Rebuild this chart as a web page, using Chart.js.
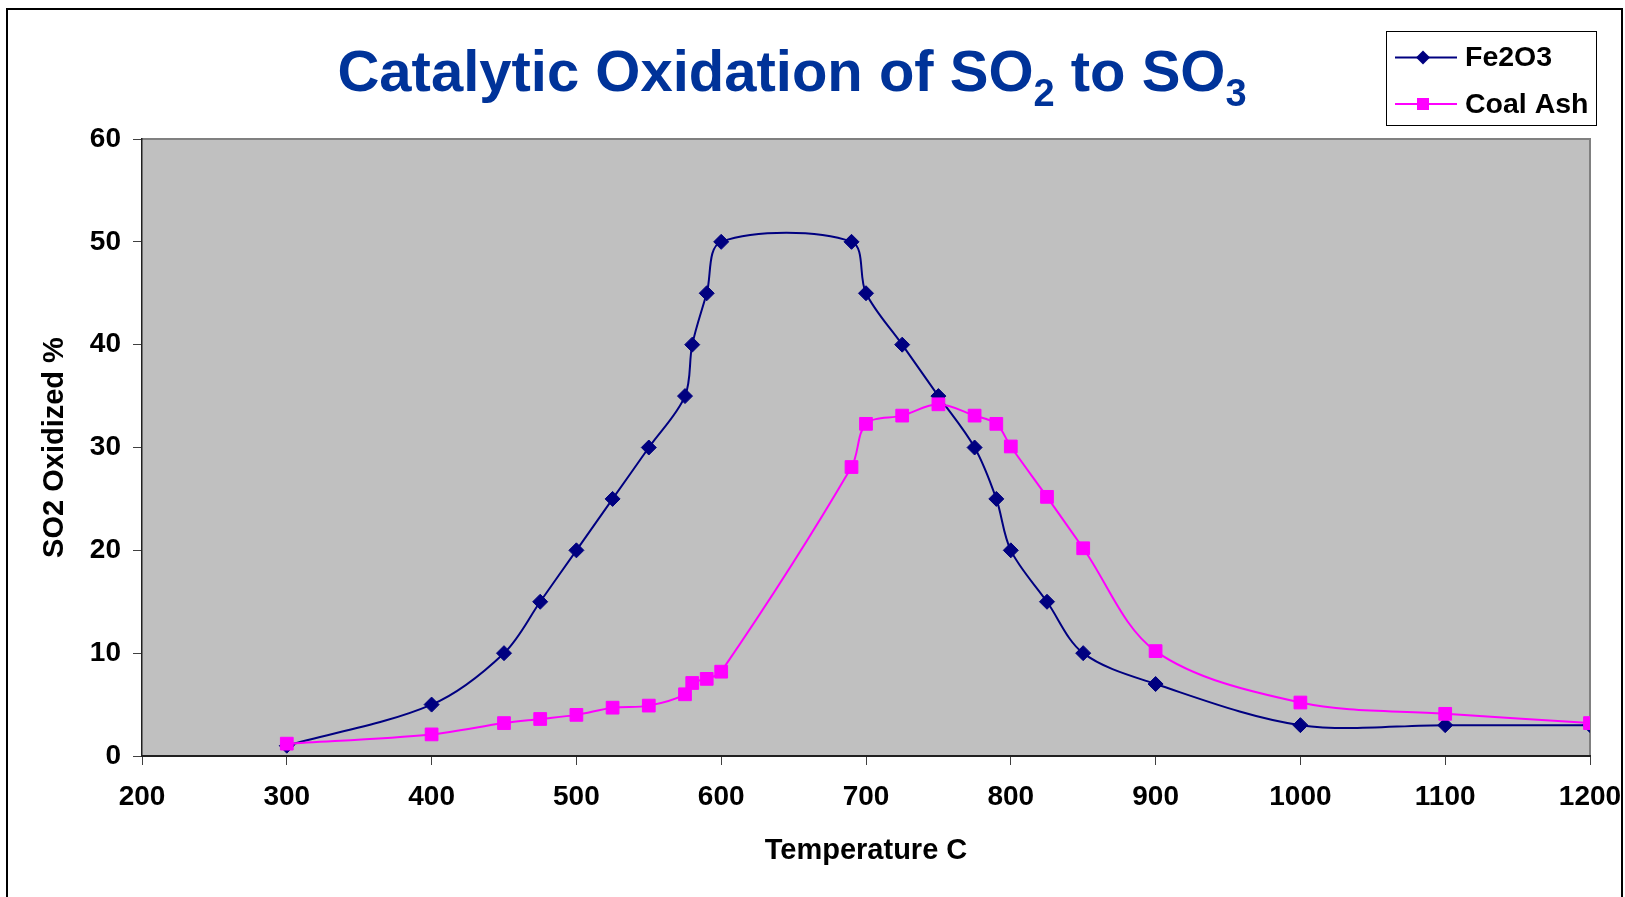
<!DOCTYPE html>
<html>
<head>
<meta charset="utf-8">
<title>Catalytic Oxidation of SO2 to SO3</title>
<script src="https://cdn.jsdelivr.net/npm/chart.js@4.4.0/dist/chart.umd.min.js"></script>
<style>
    html, body { margin: 0; padding: 0; background: #ffffff; }
    #wrap { width: 1625px; height: 897px; }
</style>
</head>
<body>
<div id="wrap"><canvas id="myChart" width="1625" height="897"></canvas></div>
<script>
// Temperature (C), shared by both series
const temperatures = [300, 400, 450, 475, 500, 525, 550, 575, 580, 590, 600, 690,
    700, 725, 750, 775, 790, 800, 825, 850, 900, 1000, 1100, 1200];

// SO2 oxidized (%)
const fe2o3Values = [1, 5, 10, 15, 20, 25, 30, 35, 40, 45, 50, 50,
    45, 40, 35, 30, 25, 20, 15, 10, 7, 3, 3, 3];
const coalAshValues = [1.2, 2.1, 3.2, 3.6, 4, 4.7, 4.9, 6, 7.1, 7.5, 8.2, 28.1,
    32.3, 33.1, 34.2, 33.1, 32.3, 30.1, 25.2, 20.2, 10.2, 5.2, 4.1, 3.2];

const seriesNames = ['Fe2O3', 'Coal Ash'];
const xMin = 200, xMax = 1200, xStep = 100;
const yMin = 0, yMax = 60, yStep = 10;

const FONT = "'Liberation Sans', Arial, sans-serif";

function toPoints(xs, ys) {
    return xs.map(function (x, i) { return {x: x, y: ys[i]}; });
}

// fond blanc, cadre gris de la zone de tracé, bordure du graphique
const backgroundPlugin = {
    id: 'background',
    beforeDraw: function (chart) {
        const c = chart.ctx;
        const a = chart.chartArea;
        c.save();
        c.fillStyle = '#ffffff';
        c.fillRect(0, 0, chart.width, chart.height);
        c.fillStyle = '#c0c0c0';
        c.fillRect(a.left, a.top, a.right - a.left, a.bottom - a.top);
        c.strokeStyle = '#808080';
        c.lineWidth = 2;
        c.beginPath();
        c.moveTo(a.left, a.top);
        c.lineTo(a.right, a.top);
        c.lineTo(a.right, a.bottom);
        c.stroke();
        c.strokeStyle = '#000000';
        c.lineWidth = 2;
        c.beginPath();
        c.moveTo(7, chart.height);
        c.lineTo(7, 9);
        c.lineTo(1622, 9);
        c.lineTo(1622, chart.height);
        c.stroke();
        c.restore();
    }
};

// titre avec indices + légende encadrée
const titleLegendPlugin = {
    id: 'titleLegend',
    afterDraw: function (chart) {
        const c = chart.ctx;
        c.save();
        // title
        const parts = [
            {t: 'Catalytic Oxidation of SO', sub: false},
            {t: '2', sub: true},
            {t: ' to SO', sub: false},
            {t: '3', sub: true}
        ];
        const big = 'bold 58px ' + FONT;
        const small = 'bold 38px ' + FONT;
        let total = 0;
        parts.forEach(function (p) {
            c.font = p.sub ? small : big;
            p.w = c.measureText(p.t).width;
            total += p.w;
        });
        let x = 792 - total / 2;
        const baseY = 91;
        c.fillStyle = '#003399';
        c.textBaseline = 'alphabetic';
        c.textAlign = 'left';
        parts.forEach(function (p) {
            c.font = p.sub ? small : big;
            c.fillText(p.t, x, p.sub ? baseY + 15 : baseY);
            x += p.w;
        });

        // legend
        c.fillStyle = '#ffffff';
        c.fillRect(1386, 31, 210, 94);
        c.strokeStyle = '#000000';
        c.lineWidth = 1;
        c.strokeRect(1386.5, 31.5, 210, 94);
        const rows = [57.5, 104];
        chart.data.datasets.forEach(function (ds, i) {
            const y = rows[i];
            c.strokeStyle = ds.borderColor;
            c.lineWidth = 2;
            c.beginPath();
            c.moveTo(1395, y);
            c.lineTo(1457, y);
            c.stroke();
            c.fillStyle = ds.backgroundColor;
            const mx = 1423;
            if (ds.pointStyle === 'rectRot') {
                c.beginPath();
                c.moveTo(mx, y - 7);
                c.lineTo(mx + 7, y);
                c.lineTo(mx, y + 7);
                c.lineTo(mx - 7, y);
                c.closePath();
                c.fill();
            } else {
                c.fillRect(mx - 6, y - 6, 12, 12);
            }
            c.fillStyle = '#000000';
            c.font = 'bold 28.5px ' + FONT;
            c.textBaseline = 'middle';
            c.fillText(ds.label, 1465, y + 1);
        });
        c.restore();
    }
};

const ctx = document.getElementById('myChart').getContext('2d');
const myChart = new Chart(ctx, {
    type: 'line',
    data: {
        datasets: [{
            label: seriesNames[0],
            data: toPoints(temperatures, fe2o3Values),
            borderColor: '#000080',
            backgroundColor: '#000080',
            borderWidth: 2,
            pointStyle: 'rectRot',
            pointRadius: 7.5,
            pointHoverRadius: 7.5,
            pointBorderWidth: 1,
            tension: 0.33,
            fill: false,
            order: 1
        }, {
            label: seriesNames[1],
            data: toPoints(temperatures, coalAshValues),
            borderColor: '#ff00ff',
            backgroundColor: '#ff00ff',
            borderWidth: 2,
            pointStyle: 'rect',
            pointRadius: 9,
            pointHoverRadius: 9,
            pointBorderWidth: 1,
            tension: 0.33,
            fill: false,
            order: 0
        }]
    },
    options: {
        responsive: false,
        animation: false,
        layout: {
            padding: {top: 139, right: 35, bottom: 0, left: 0}
        },
        plugins: {
            legend: {display: false},
            title: {display: false},
            tooltip: {enabled: false}
        },
        scales: {
            x: {
                type: 'linear',
                min: xMin,
                max: xMax,
                afterFit: function (scale) {
                    scale.height = 141;
                    scale.paddingLeft = 0;  // la marge est gérée par layout.padding
                    scale.paddingRight = 0;
                },
                ticks: {
                    stepSize: xStep,
                    color: '#000000',
                    padding: 15,
                    font: {family: FONT, size: 28, weight: 'bold'},
                    callback: function (value) { return String(value); }
                },
                grid: {
                    drawOnChartArea: false,
                    drawTicks: true,
                    tickLength: 9,
                    tickColor: '#404040',
                    tickWidth: 1
                },
                border: {color: '#202020', width: 2},
                title: {
                    display: true,
                    text: 'Temperature C',
                    color: '#000000',
                    font: {family: FONT, size: 29, weight: 'bold'},
                    padding: {top: 0, bottom: 29}
                }
            },
            y: {
                min: yMin,
                max: yMax,
                afterFit: function (scale) { scale.width = 142; },
                ticks: {
                    stepSize: yStep,
                    color: '#000000',
                    padding: 12,
                    font: {family: FONT, size: 28, weight: 'bold'},
                    callback: function (value) { return String(value); }
                },
                grid: {
                    drawOnChartArea: false,
                    drawTicks: true,
                    tickLength: 9,
                    tickColor: '#404040',
                    tickWidth: 1
                },
                border: {color: '#202020', width: 1.5},
                title: {
                    display: true,
                    text: 'SO2 Oxidized %',
                    color: '#000000',
                    font: {family: FONT, size: 29, weight: 'bold'},
                    padding: {top: 38, bottom: 0}
                }
            }
        }
    },
    plugins: [backgroundPlugin, titleLegendPlugin]
});
</script>
</body>
</html>
